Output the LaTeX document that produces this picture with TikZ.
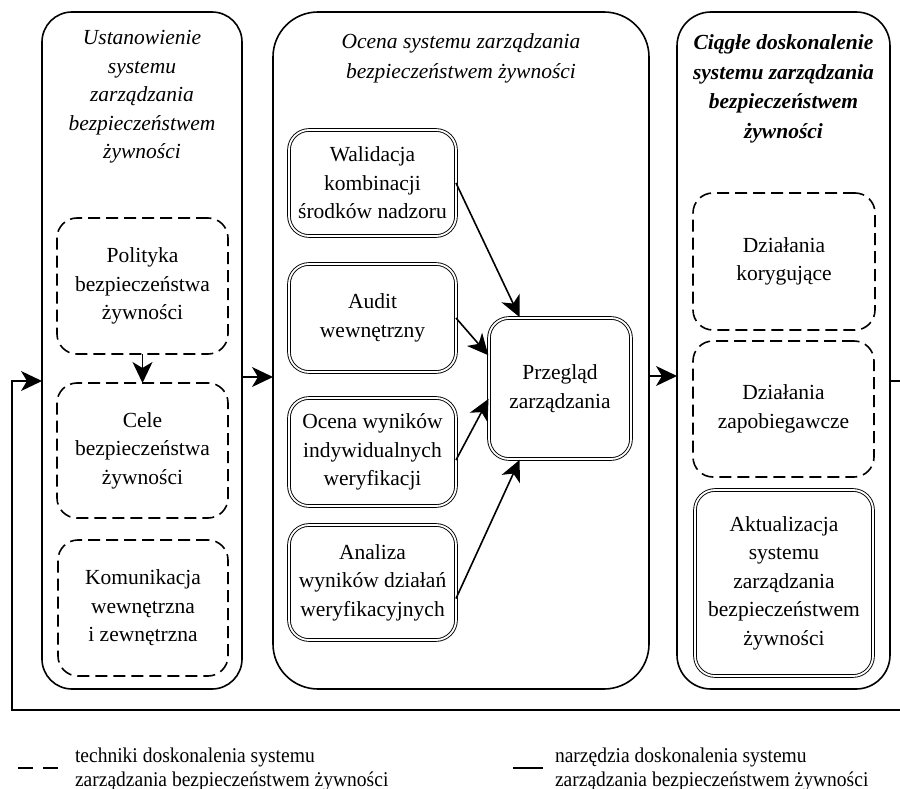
\documentclass[tikz,border=0pt]{standalone}
\usepackage{fontspec}
\setmainfont{Liberation Serif}
\newfontfamily\legendfont{Liberation Serif}[FakeStretch=0.93]
\usetikzlibrary{arrows.meta,calc}

\newcommand\diagboxfont{\fontsize{21.5}{28.5}\selectfont}

\begin{document}
\begin{tikzpicture}[x=1pt,y=-1pt,
  every node/.style={inner sep=0pt, outer sep=0pt},
  sized/.style 2 args={minimum width=#1, minimum height=#2},
  phasebox/.style={draw, line width=1.6pt},
  heading/.style={align=center},
  technique/.style={draw, line width=1.6pt, dash pattern=on 12pt off 6pt,
    rounded corners=20pt, align=center, font=\diagboxfont},
  tool/.style={draw, double, line width=0.9pt, double distance=1.8pt,
    rounded corners=20pt, align=center, font=\diagboxfont},
  flow/.style={line width=1.6pt, -{Stealth[length=21pt,width=20pt,inset=6pt]}},
  legendtext/.style={anchor=west, align=left,
    font={\legendfont\fontsize{21}{24}\selectfont}}
]
\useasboundingbox (0,0) rectangle (900,789);
\clip (0,0) rectangle (900,789);

% three phases of the food safety management system
\node[phasebox, rounded corners=30pt, sized={200pt}{677pt}] (estab) at (142,350.5) {};
\node[phasebox, rounded corners=45pt, sized={376pt}{677pt}] (assess) at (461,350.5) {};
\node[phasebox, rounded corners=34pt, sized={213pt}{677pt}] (improve) at (783.5,350.5) {};

\node[heading, font={\itshape\fontsize{21.5}{28.5}\selectfont}] (estabT) at (142,97)
  {Ustanowienie\\systemu\\zarządzania\\bezpieczeństwem\\żywności};
\node[heading, font={\itshape\fontsize{21.5}{30}\selectfont}] (assessT) at (461,58)
  {Ocena systemu zarządzania\\bezpieczeństwem żywności};
\node[heading, font={\bfseries\itshape\fontsize{21.5}{29.5}\selectfont}] (improveT) at (783.5,89)
  {Ciągłe doskonalenie\\systemu zarządzania\\bezpieczeństwem\\żywności};

% establishing the system
\node[technique, sized={171pt}{136pt}] (policy) at (142.5,286)
  {Polityka\\bezpieczeństwa\\żywności};
\node[technique, sized={171pt}{135pt}] (goals) at (142.5,450.5)
  {Cele\\bezpieczeństwa\\żywności};
\node[technique, sized={170pt}{136pt}] (comm) at (143,608)
  {Komunikacja\\wewnętrzna\\i zewnętrzna};

% assessing the system
\node[tool, sized={167pt}{106pt}] (valid) at (372.5,183)
  {Walidacja\\kombinacji\\środków nadzoru};
\node[tool, sized={167pt}{108pt}] (audit) at (372.5,318)
  {Audit\\wewnętrzny};
\node[tool, sized={167pt}{108pt}] (verif) at (372.5,452)
  {Ocena wyników\\indywidualnych\\weryfikacji};
\node[tool, sized={167pt}{115pt}] (analys) at (372.5,582.5)
  {Analiza\\wyników działań\\weryfikacyjnych};
\node[tool, sized={142pt}{141pt}] (review) at (560,388.5)
  {Przegląd\\zarządzania};

% improving the system
\node[technique, sized={182pt}{137pt}] (corr) at (784,261.5)
  {Działania\\korygujące};
\node[technique, sized={181pt}{136pt}] (prev) at (783.5,409)
  {Działania\\zapobiegawcze};
\node[tool, sized={178pt}{186pt}] (update) at (784,583)
  {Aktualizacja\\systemu\\zarządzania\\bezpieczeństwem\\żywności};

% connectors
\coordinate (rowA) at (0,377);
\coordinate (rowB) at (0,376);
\draw[flow] (policy.south) -- (goals.north);
\draw[flow] (estab.east |- rowA) -- (assess.west |- rowA);
\draw[flow] (assess.east |- rowB) -- (improve.west |- rowB);

\draw[flow, shorten >=1pt] (valid.east) -- ([xshift=31pt]review.north west);
\draw[flow, shorten >=1pt] (audit.east) -- ([yshift=-38pt]review.north west);
\draw[flow, shorten >=1pt] ([yshift=-8pt]verif.east) -- ([yshift=-80pt]review.north west);
\draw[flow, shorten >=1pt] ([yshift=-16pt]analys.east) -- ([xshift=31pt]review.south west);

% feedback loop back to the first phase
\coordinate (fbTop) at (902,381);
\coordinate (fbBotR) at (902,710);
\coordinate (fbBotL) at (12,710);
\coordinate (fbLeft) at (12,381);
\draw[flow] (improve.east |- fbTop) -- (fbTop) -- (fbBotR) -- (fbBotL) -- (fbLeft)
  -- (estab.west |- fbLeft);

% legend
\coordinate (legDashA) at (18,768);
\coordinate (legDashB) at (58,768);
\coordinate (legLineA) at (513,768);
\coordinate (legLineB) at (543,768);
\draw[line width=1.8pt, dash pattern=on 15pt off 10pt] (legDashA) -- (legDashB);
\draw[line width=1.8pt] (legLineA) -- (legLineB);
\node[legendtext] (legTech) at (75,769)
  {techniki doskonalenia systemu\\zarządzania bezpieczeństwem żywności};
\node[legendtext] (legTool) at (555,769)
  {narzędzia doskonalenia systemu\\zarządzania bezpieczeństwem żywności};
\end{tikzpicture}
\end{document}
